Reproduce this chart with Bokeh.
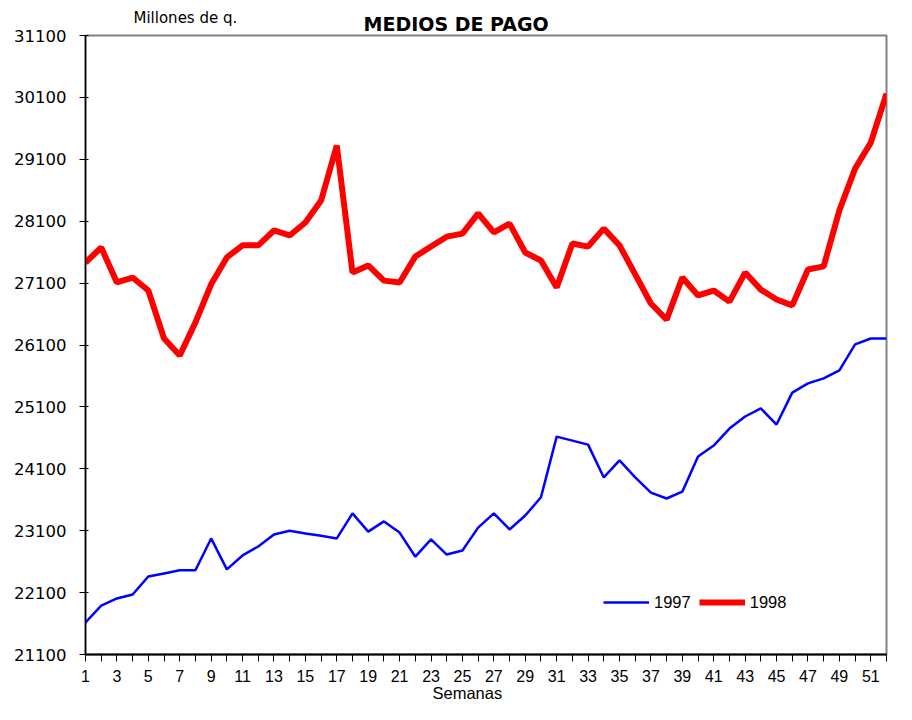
from bokeh.plotting import figure
from bokeh.models import FixedTicker, Legend, LegendItem, Title, Range1d
from bokeh.embed import file_html
from bokeh.resources import INLINE

weeks = list(range(1, 53))
y1997 = [21617, 21890, 22005, 22070, 22360, 22410, 22460, 22460, 22975, 22475,
         22700, 22845, 23040, 23100, 23055, 23020, 22975, 23380, 23085, 23250,
         23070, 22680, 22960, 22715, 22780, 23150, 23380, 23120, 23345, 23640,
         24620, 24555, 24490, 23960, 24235, 23960, 23715, 23620, 23730, 24300,
         24475, 24750, 24945, 25075, 24815, 25330, 25480, 25560, 25690, 26110,
         26205, 26205]
y1998 = [27433, 27675, 27110, 27190, 26980, 26205, 25930, 26465, 27080, 27515,
         27710, 27710, 27950, 27870, 28080, 28435, 29323, 27270, 27385, 27140,
         27110, 27530, 27690, 27850, 27900, 28225, 27920, 28060, 27595, 27465,
         27030, 27740, 27690, 27980, 27710, 27240, 26770, 26510, 27190, 26900,
         26980, 26800, 27270, 26995, 26835, 26740, 27320, 27370, 28275, 28950,
         29370, 30160]
y_ticks = list(range(21100, 31101, 1000))
title_text = "MEDIOS DE PAGO"
units_text = "Millones de q."
x_title = "Semanas"

FONT = "Liberation Sans"
WIDE = "DejaVu Sans"

p = figure(width=896, height=712, output_backend="svg", toolbar_location=None,
           frame_width=801, frame_height=619,
           min_border_left=85, min_border_top=35, min_border_right=10, min_border_bottom=50,
           x_range=Range1d(1, 52), y_range=Range1d(21100, 31100))
p.title = None
p.background_fill_color = "white"
p.border_fill_color = "white"
p.outline_line_color = "#808080"
p.outline_line_width = 2
p.xgrid.visible = False
p.ygrid.visible = False

r97 = p.line(weeks, y1997, line_color="#0000FF", line_width=2.5)
r98 = p.line(weeks, y1998, line_color="#FF0000", line_width=6)

# x axis
p.xaxis.ticker = FixedTicker(ticks=weeks)
p.xaxis.major_label_overrides = {w: ("" if w % 2 == 0 else str(w)) for w in weeks}
p.xaxis.minor_tick_line_color = None
p.xaxis.major_tick_out = 7
p.xaxis.major_tick_in = 0
p.xaxis.major_tick_line_color = "black"
p.xaxis.axis_line_color = "black"
p.xaxis.axis_line_width = 2
p.xaxis.major_label_text_font = FONT
p.xaxis.major_label_text_font_size = "16px"
p.xaxis.major_label_text_color = "black"
p.xaxis.major_label_standoff = 8

# y axis
p.yaxis.ticker = FixedTicker(ticks=y_ticks)
p.yaxis.minor_tick_line_color = None
p.yaxis.major_tick_out = 6
p.yaxis.major_tick_in = 3
p.yaxis.major_tick_line_color = "black"
p.yaxis.axis_line_color = "black"
p.yaxis.axis_line_width = 1.5
p.yaxis.major_label_text_font = WIDE
p.yaxis.major_label_text_font_size = "16.5px"
p.yaxis.major_label_text_color = "black"
p.yaxis.major_label_standoff = 13

# titles (main title closest to the frame, units above it)
t_main = Title(text=title_text, align="left", offset=278, standoff=1,
               text_font=WIDE, text_font_size="19px", text_font_style="bold",
               text_color="black")
t_units = Title(text=units_text, align="left", offset=48, standoff=-33,
                text_font=WIDE, text_font_size="15px", text_font_style="normal",
                text_color="black")
p.add_layout(t_main, "above")
p.add_layout(t_units, "above")
t_x = Title(text=x_title, align="left", offset=347, standoff=-5,
            text_font=FONT, text_font_size="16.5px", text_font_style="normal",
            text_color="black")
p.add_layout(t_x, "below")

legend = Legend(items=[LegendItem(label="1997", renderers=[r97]),
                       LegendItem(label="1998", renderers=[r98])],
                orientation="horizontal", location=(518, 42),
                glyph_width=46, glyph_height=20, label_standoff=5, spacing=8,
                padding=0, margin=0,
                border_line_alpha=0, background_fill_alpha=0,
                label_text_font=FONT, label_text_font_size="16.5px",
                label_text_color="black")
p.add_layout(legend)

open("out.html", "w").write(file_html(p, INLINE))
